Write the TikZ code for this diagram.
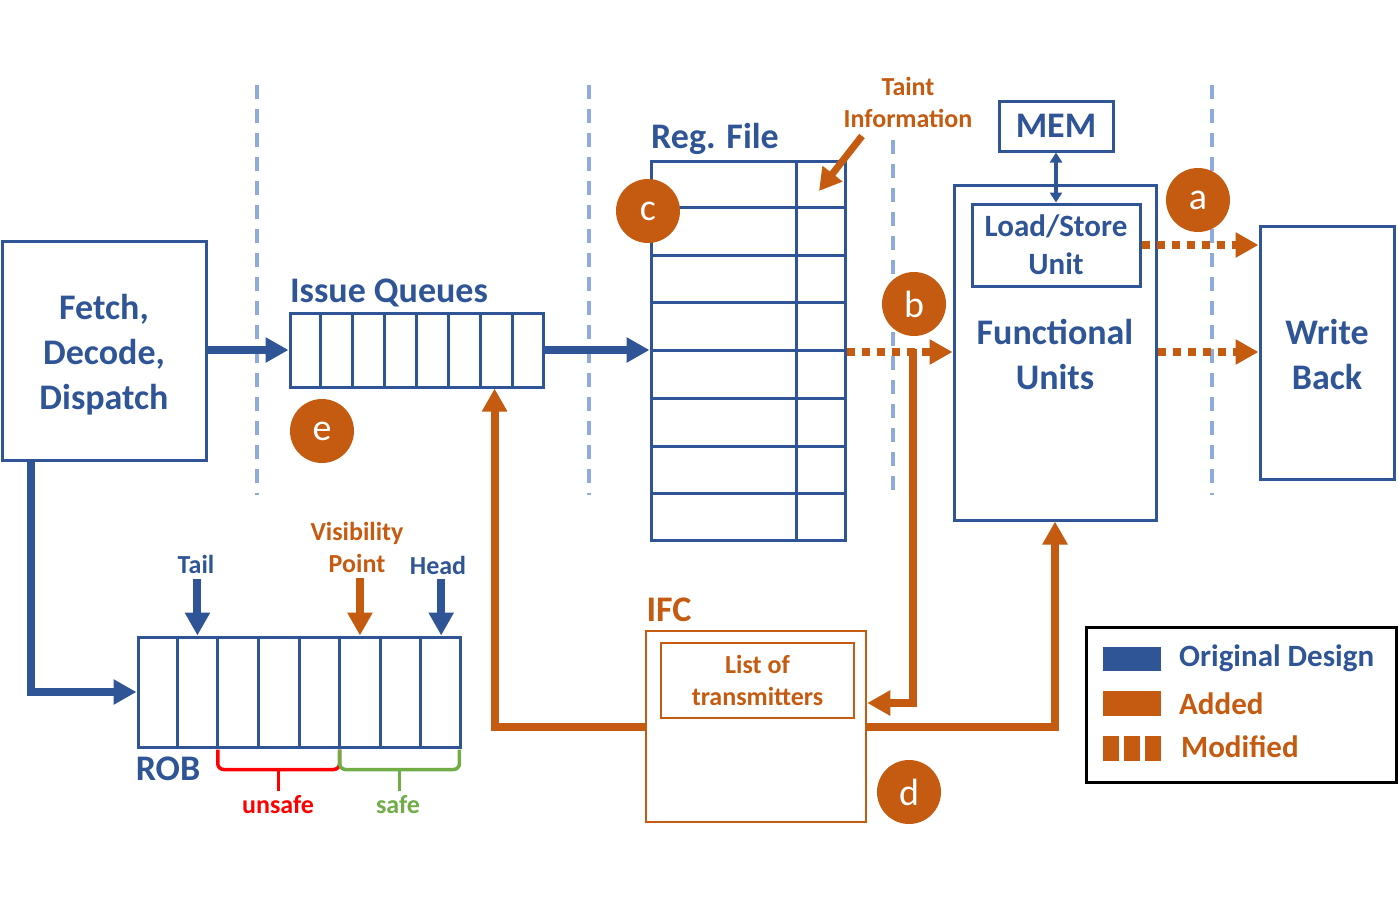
\documentclass[tikz,border=0pt]{standalone}
\usepackage{fontspec}
\setmainfont{Carlito}
\usetikzlibrary{arrows.meta,calc}
\definecolor{cblue}{HTML}{2F5597}
\definecolor{corange}{HTML}{C55A11}
\definecolor{clight}{HTML}{8FAADC}
\definecolor{cred}{HTML}{FF0000}
\definecolor{cgreen}{HTML}{70AD47}
\tikzset{
  box/.style={draw=cblue, line width=3pt, text=cblue, font=\bfseries\fontsize{36}{45}\selectfont, align=center, inner sep=0pt},
  obox/.style={draw=corange, line width=2.5pt, text=corange, font=\bfseries\fontsize{26}{32}\selectfont, align=center, inner sep=0pt},
  bigblue/.style={text=cblue, font=\bfseries\fontsize{36}{45}\selectfont, inner sep=0pt, align=center},
  bigorange/.style={text=corange, font=\bfseries\fontsize{36}{45}\selectfont, inner sep=0pt},
  smallblue/.style={text=cblue, font=\bfseries\fontsize{26}{32}\selectfont, inner sep=0pt, align=center},
  smallorange/.style={text=corange, font=\bfseries\fontsize{26}{32}\selectfont, inner sep=0pt, align=center},
  circ/.style={circle, fill=corange, text=white, minimum size=64pt, inner sep=0pt, font=\fontsize{38}{38}\selectfont},
  barrow/.style={draw=cblue, line width=8pt, -{Triangle[length=23pt,width=24pt]}},
  oarrow/.style={draw=corange, line width=8pt, -{Triangle[length=23pt,width=24pt]}},
  dotarrow/.style={draw=corange, line width=8pt, dash pattern=on 8pt off 7pt, -{Triangle[length=23pt,width=24pt]}},
  sepline/.style={draw=clight, line width=3.5pt, dash pattern=on 14pt off 10pt},
  cell/.style={draw=cblue, line width=3pt},
  legtext/.style={font=\bfseries\fontsize{31}{36}\selectfont, anchor=west, inner sep=0pt},
}
\begin{document}
\begin{tikzpicture}[x=1pt,y=-1pt]
\useasboundingbox (0,0) rectangle (1398,900);

% stage separators
\draw[sepline] (257,85) -- (257,495);
\draw[sepline] (589,85) -- (589,495);
\draw[sepline] (893,140) -- (893,495);
\draw[sepline] (1212,85) -- (1212,495);

% Fetch
\node[box, minimum width=204pt, minimum height=219pt] (fetch) at (104,350.5) {};
\node[bigblue] (fetchtext) at (104,355) {Fetch,\\Decode,\\Dispatch};

% Issue queues
\node[box, minimum width=253pt, minimum height=74pt] (iq) at (416.5,350) {};
\foreach \i in {1,...,7}
  \draw[cell] ($(iq.north west)!\i/8!(iq.north east)$) -- ($(iq.south west)!\i/8!(iq.south east)$);
\node[bigblue] (iqlabel) at (389,293) {Issue Queues};

% Register file
\node[box, minimum width=194pt, minimum height=379pt] (rf) at (748,350.5) {};
\draw[cell] ($(rf.north west)+(147,0)$) -- ($(rf.south west)+(147,0)$);
\foreach \i in {1,...,7}
  \draw[cell] ($(rf.north west)!\i/8!(rf.south west)$) -- ($(rf.north east)!\i/8!(rf.south east)$);
\node[bigblue] (rflabel) at (715,139) {Reg. File};

% Taint information
\node[smallorange] (taint) at (908,102) {Taint\\Information};
\coordinate (tainttail) at (862,136);
\coordinate (tainttip) at (819,191);
\draw[oarrow, line width=7pt, -{Triangle[length=22pt,width=24pt]}] (tainttail) -- (tainttip);

% MEM, functional units
\node[box, minimum width=114pt, minimum height=50pt] (mem) at (1056,126) {MEM};
\node[box, minimum width=202pt, minimum height=335pt] (fu) at (1055,352.5) {};
\node[bigblue] (futext) at (1055,354) {Functional\\Units};
\node[box, minimum width=168pt, minimum height=82pt, font=\bfseries\fontsize{31}{38}\selectfont] (lsu) at (1056,245) {Load/Store\\Unit};
\draw[draw=cblue, line width=4pt, {Triangle[length=10pt,width=12pt]}-{Triangle[length=10pt,width=12pt]}] (mem.south) -- (lsu.north);

% Write back
\node[box, minimum width=134pt, minimum height=253pt] (wb) at (1327,352.5) {};
\node[bigblue] (wbtext) at (1327,354) {Write\\Back};

% ROB
\node[box, minimum width=322pt, minimum height=110pt] (rob) at (299,692) {};
\foreach \i in {1,...,7}
  \draw[cell] ($(rob.north west)!\i/8!(rob.north east)$) -- ($(rob.south west)!\i/8!(rob.south east)$);
\node[bigblue] (roblabel) at (168,769) {ROB};

\node[smallblue] (tail) at (196,564) {Tail};
\node[smallorange] (vis) at (357,547) {Visibility\\Point};
\node[smallblue] (head) at (438,565) {Head};
\coordinate (tailx) at ($(rob.north west)!1.5/8!(rob.north east)$);
\coordinate (visx) at ($(rob.north west)!5.5/8!(rob.north east)$);
\coordinate (headx) at ($(rob.north west)!7.5/8!(rob.north east)$);
\draw[barrow] (tailx |- 0,579) -- (tailx);
\draw[oarrow] (visx |- 0,578) -- (visx);
\draw[barrow] (headx |- 0,579) -- (headx);

% braces
\coordinate (b1) at ($(rob.south west)!2/8!(rob.south east)$);
\coordinate (b2) at ($(rob.south west)!5/8!(rob.south east)$);
\coordinate (b3) at ($(rob.south west)!7.95/8!(rob.south east)$);
\draw[cred, line width=3.5pt, rounded corners=6pt] ($(b1)+(0,1)$) -- ($(b1)+(0,21)$) -- ($(b2)+(0,21)$) -- ($(b2)+(0,1)$);
\draw[cred, line width=3.5pt] ($(b1)!0.5!(b2)+(0,21)$) -- ($(b1)!0.5!(b2)+(0,42)$);
\draw[cgreen, line width=3.5pt, rounded corners=6pt] ($(b2)+(0,1)$) -- ($(b2)+(0,21)$) -- ($(b3)+(0,21)$) -- ($(b3)+(0,1)$);
\draw[cgreen, line width=3.5pt] ($(b2)!0.5!(b3)+(0,21)$) -- ($(b2)!0.5!(b3)+(0,42)$);
\node[text=cred, font=\bfseries\fontsize{26}{32}\selectfont, inner sep=0pt] (unsafe) at (278,805) {unsafe};
\node[text=cgreen, font=\bfseries\fontsize{26}{32}\selectfont, inner sep=0pt] (safe) at (398,805) {safe};

% IFC
\node[obox, minimum width=220pt, minimum height=191pt] (ifc) at (756,726.5) {};
\node[bigorange] (ifclabel) at (669,610) {IFC};
\node[obox, minimum width=193pt, minimum height=75pt] (lot) at (757.5,680.5) {List of\\transmitters};

% main connectors
\draw[barrow] (fetch.east |- iq.west) -- (iq.west);
\draw[barrow] (iq.east) -- (iq.east -| rf.west);
\coordinate (fetchdown) at ($(fetch.south west)+(30,0)$);
\draw[barrow] (fetchdown) |- (rob.west);

\draw[dotarrow] (rf.east |- 0,352) -- (fu.west |- 0,352);
\draw[dotarrow] (lsu.east) -- (lsu.east -| wb.west);
\draw[dotarrow] (fu.east |- 0,352) -- (wb.west |- 0,352);

\coordinate (btap) at (913,349);
\coordinate (by) at (0,703);
\coordinate (ly) at (0,727);
\coordinate (iqin) at ($(iq.south west)!6.44/8!(iq.south east)$);
\draw[oarrow] (btap) |- (ifc.east |- by);
\draw[oarrow] (ifc.east |- ly) -| (fu.south);
\draw[oarrow] (ifc.west |- ly) -| (iqin);

% circles
\node[circ] (ca) at (1198,200) {a};
\node[circ] (cb) at (914,304) {b};
\node[circ] (cc) at (648,211) {c};
\node[circ] (cd) at (909,792) {d};
\node[circ] (ce) at (322,431) {e};

% legend
\node[draw=black, line width=3pt, minimum width=310pt, minimum height=155pt, inner sep=0pt] (legend) at (1241,704.5) {};
\node[fill=cblue, minimum width=58pt, minimum height=24pt, inner sep=0pt] (lgblue) at (1132,659) {};
\node[fill=corange, minimum width=58pt, minimum height=25pt, inner sep=0pt] (lgorange) at (1132,703.5) {};
\node[fill=corange, minimum width=16pt, minimum height=25pt, inner sep=0pt] (lgm1) at (1111,748.5) {};
\node[fill=corange, minimum width=16pt, minimum height=25pt, inner sep=0pt] (lgm2) at (1132,748.5) {};
\node[fill=corange, minimum width=16pt, minimum height=25pt, inner sep=0pt] (lgm3) at (1153,748.5) {};
\node[legtext, text=cblue] (lgt1) at (1179,658) {Original Design};
\node[legtext, text=corange] (lgt2) at (1179,704) {Added};
\node[legtext, text=corange] (lgt3) at (1181,747) {Modified};
\end{tikzpicture}
\end{document}
